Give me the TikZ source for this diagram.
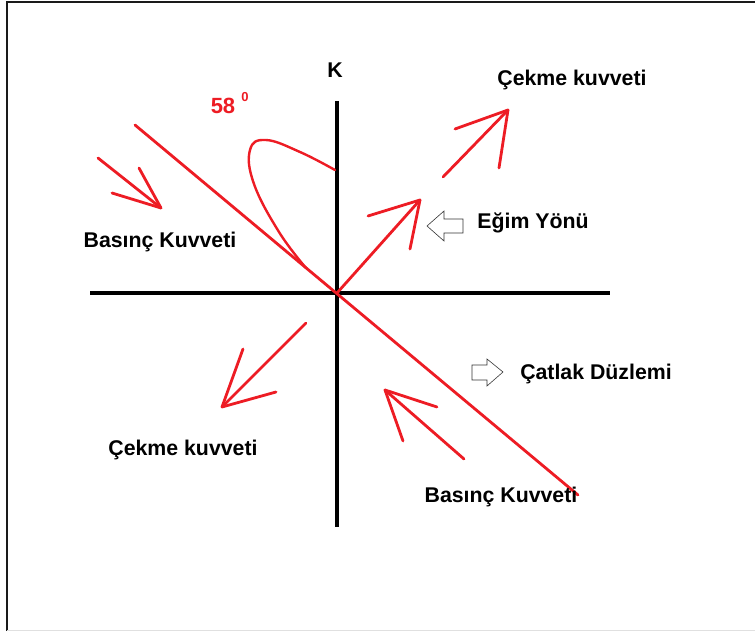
\documentclass[tikz,border=0pt]{standalone}
\usepackage{fontspec}
\setmainfont{Liberation Sans}
\usepackage{tikz}
\usetikzlibrary{calc}
\definecolor{cRed}{HTML}{ED1C24}
\definecolor{cAxis}{HTML}{000000}
\definecolor{cFrame}{HTML}{1A1A1A}
\tikzset{
  axis/.style={draw=cAxis, line width=4pt},
  redln/.style={draw=cRed, line width=2.8pt, line cap=round, line join=round},
  barb/.style={redln},
  hollow/.style={draw=black!80, line width=0.6pt, fill=white},
  lbl/.style={font=\fontsize{21.3}{24}\selectfont\bfseries, text=black, inner sep=0pt},
  redlbl/.style={font=\fontsize{22}{26}\selectfont\bfseries, text=cRed, inner sep=0pt}
}

\begin{document}
\begin{tikzpicture}[x=1pt, y=-1pt]
\useasboundingbox (0,0) rectangle (755,631);
% frame
\draw[cFrame, line width=2pt] (7,631) -- (7,2.5) -- (755,2.5);
\draw[black!12, line width=1pt] (7,630.5) -- (755,630.5);
% axes
\coordinate (O) at (337,293);
\coordinate (xl) at (90,293);
\coordinate (xr) at (610,293);
\coordinate (yt) at (337,101);
\coordinate (yb) at (337,527);
\draw[axis] (xl) -- (xr);
\draw[axis] (yt) -- (yb);
\node[lbl] (K) at (335,70) {K};
% fault plane
\coordinate (f1) at (135,125);
\coordinate (f2) at (578,495);
\draw[redln] (f1) -- (f2);
% dip angle loop
\draw[redln, line width=2.4pt] plot[smooth, tension=0.7] coordinates
  {(335,170) (300,152) (266,140) (250,150) (254,184) (279,232) (306,268)};
\node[redlbl] (ang) at (223,106) {58};
\node[text=cRed, font=\fontsize{13}{15}\selectfont\bfseries, inner sep=0pt] (deg) at (245,97) {0};
% compression, upper left
\coordinate (p1s) at (98,158); \coordinate (p1t) at (161,208);
\coordinate (p1a) at (112,193); \coordinate (p1b) at (139,168);
\draw[redln] (p1s) -- (p1t);
\draw[barb] (p1a) -- (p1t) -- (p1b);
\node[lbl] (bas1) at (160,242) {Basınç Kuvveti};
% tension, upper right
\coordinate (t1s) at (443,177); \coordinate (t1t) at (508,110);
\coordinate (t1a) at (455,129); \coordinate (t1b) at (499,168);
\draw[redln] (t1s) -- (t1t);
\draw[barb] (t1a) -- (t1t) -- (t1b);
\node[lbl] (cek1) at (572,80) {Çekme kuvveti};
% dip direction arrow
\coordinate (dt) at (420,200);
\coordinate (da) at (368,216); \coordinate (db) at (410,249);
\draw[redln] (O) -- (dt);
\draw[barb] (da) -- (dt) -- (db);
\draw[hollow] (427,226) -- (444,211) -- (444,219) -- (463,219) -- (463,233) -- (444,233) -- (444,241) -- cycle;
\node[lbl] (egim) at (533,223) {Eğim Yönü};
% tension, lower left
\coordinate (t2s) at (306,323); \coordinate (t2t) at (222,407);
\coordinate (t2a) at (243,349); \coordinate (t2b) at (276,392);
\draw[redln] (t2s) -- (t2t);
\draw[barb] (t2a) -- (t2t) -- (t2b);
\node[lbl] (cek2) at (183,450) {Çekme kuvveti};
% compression, lower right
\coordinate (p2s) at (464,459); \coordinate (p2t) at (385,390);
\coordinate (p2a) at (437,407); \coordinate (p2b) at (403,441);
\draw[redln] (p2s) -- (p2t);
\draw[barb] (p2a) -- (p2t) -- (p2b);
\node[lbl] (bas2) at (501,497) {Basınç Kuvveti};
% fault plane pointer
\draw[hollow] (503,372) -- (487,359) -- (487,365) -- (472,365) -- (472,380) -- (487,380) -- (487,386) -- cycle;
\node[lbl] (catlak) at (596,374) {Çatlak Düzlemi};
\end{tikzpicture}
\end{document}
